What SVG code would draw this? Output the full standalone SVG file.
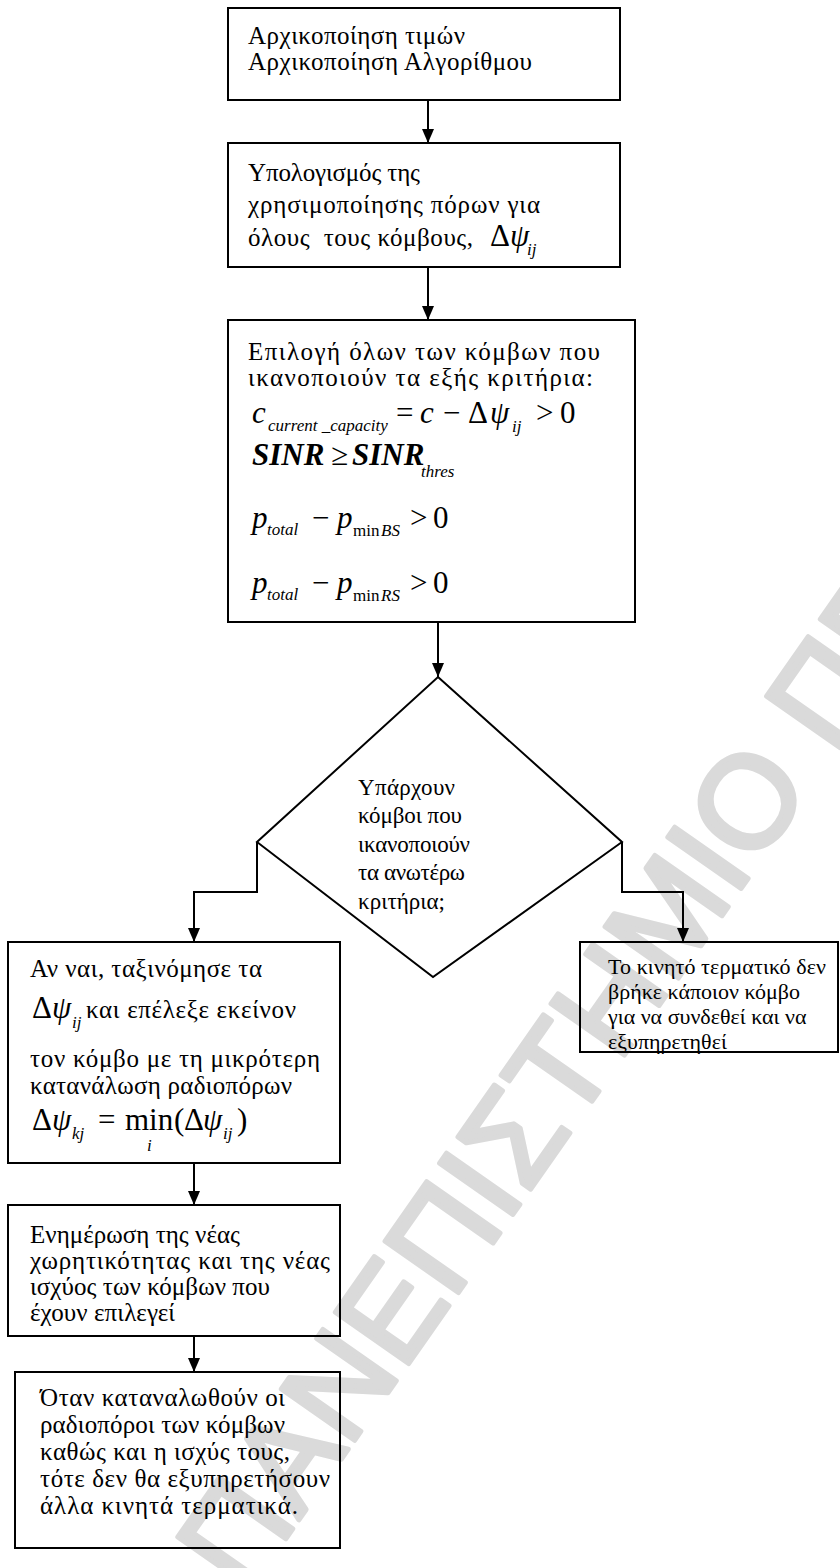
<svg xmlns="http://www.w3.org/2000/svg" width="840" height="1568" viewBox="0 0 840 1568">
<style>
.box{fill:none;stroke:#000;stroke-width:2}
.t{font-family:"Liberation Serif","DejaVu Serif",serif;font-size:25px;fill:#000}
.td{font-family:"Liberation Serif","DejaVu Serif",serif;font-size:23px;fill:#000}
.t5{font-family:"Liberation Serif","DejaVu Serif",serif;font-size:22px;fill:#000}
.m{font-family:"Liberation Serif","DejaVu Serif",serif;font-size:31px;fill:#000}
.mi{font-family:"Liberation Serif","DejaVu Serif",serif;font-size:31px;font-style:italic;fill:#000}
.s{font-family:"Liberation Serif","DejaVu Serif",serif;font-size:17px;font-style:italic;fill:#000}
.su{font-family:"Liberation Serif","DejaVu Serif",serif;font-size:17px;fill:#000}
.c{fill:none;stroke:#000;stroke-width:2}
.wm{font-family:"Liberation Sans","DejaVu Sans",sans-serif;font-size:130px;fill:#dadada;stroke:#dadada;stroke-width:5;stroke-linejoin:round}
</style>
<defs>
<marker id="ah" viewBox="0 0 14 12" refX="14" refY="6" markerWidth="14" markerHeight="12" markerUnits="userSpaceOnUse" orient="auto">
<path d="M0,0 L14,6 L0,12 z" fill="#000"/>
</marker>
</defs>
<rect width="840" height="1568" fill="#fff"/>
<g id="watermark">
<text class="wm" transform="translate(245,1597) rotate(-55)">ΠΑΝΕΠΙΣΤΗΜΙΟ ΠΕΙΡΑΙΩΣ</text>
</g>
<g id="connectors">
<line class="c" x1="428" y1="100" x2="428" y2="143" marker-end="url(#ah)"/>
<line class="c" x1="428" y1="267" x2="428" y2="320" marker-end="url(#ah)"/>
<line class="c" x1="438" y1="622" x2="438" y2="677" marker-end="url(#ah)"/>
<polyline class="c" points="257,842 257,892 194,892 194,942" marker-end="url(#ah)"/>
<polyline class="c" points="622,842 622,892 683,892 683,942" marker-end="url(#ah)"/>
<line class="c" x1="194" y1="1163" x2="194" y2="1205" marker-end="url(#ah)"/>
<line class="c" x1="194" y1="1336" x2="194" y2="1372" marker-end="url(#ah)"/>
</g>
<g id="n1">
<rect class="box" x="228" y="8" width="392" height="92"/>
<text class="t" x="248" y="44" textLength="217">Αρχικοποίηση τιμών</text>
<text class="t" x="248" y="70" textLength="284">Αρχικοποίηση Αλγορίθμου</text>
</g>
<g id="n2">
<rect class="box" x="228" y="143" width="392" height="124"/>
<text class="t" x="248" y="181" textLength="172">Υπολογισμός της</text>
<text class="t" x="248" y="213" textLength="292">χρησιμοποίησης πόρων για</text>
<text class="t" x="248" y="246" xml:space="preserve" textLength="225">όλους  τους κόμβους,</text>
<text class="m" x="490" y="246">Δ</text>
<text class="mi" x="510" y="246">ψ</text>
<text class="s" x="527" y="255">ij</text>
</g>
<g id="n3">
<rect class="box" x="228" y="320" width="407" height="302"/>
<text class="t" x="248" y="360" font-size="26" textLength="352">Επιλογή όλων των κόμβων που</text>
<text class="t" x="248" y="386" font-size="26" textLength="345">ικανοποιούν τα εξής κριτήρια:</text>
<text class="mi" x="252" y="423" font-size="34">c</text>
<text class="s" x="268" y="431" xml:space="preserve">current _capacity</text>
<text class="m" x="396" y="423">=</text>
<text class="mi" x="420" y="423">c</text>
<text class="m" x="443" y="423">−</text>
<text class="m" x="468" y="423">Δ</text>
<text class="mi" x="490" y="423">ψ</text>
<text class="s" x="512" y="432">ij</text>
<text class="m" x="536" y="423">&gt;</text>
<text class="m" x="560" y="423">0</text>
<text class="mi" x="252" y="465" font-weight="bold">SINR</text>
<text class="m" x="331" y="465">≥</text>
<text class="mi" x="352" y="465" font-weight="bold">SINR</text>
<text class="s" x="421" y="477">thres</text>
<text class="mi" x="252" y="528">p</text>
<text class="s" x="267" y="535">total</text>
<text class="m" x="312" y="528">−</text>
<text class="mi" x="337" y="528">p</text>
<text class="su" x="353" y="536">min</text>
<text class="s" x="381" y="536">BS</text>
<text class="m" x="410" y="528">&gt;</text>
<text class="m" x="433" y="528">0</text>
<text class="mi" x="252" y="593">p</text>
<text class="s" x="267" y="600">total</text>
<text class="m" x="312" y="593">−</text>
<text class="mi" x="337" y="593">p</text>
<text class="su" x="353" y="601">min</text>
<text class="s" x="381" y="601">RS</text>
<text class="m" x="410" y="593">&gt;</text>
<text class="m" x="433" y="593">0</text>
</g>
<g id="n4">
<polygon class="box" points="438,677 622,842 433,977 257,842"/>
<text class="td" x="358" y="795" textLength="97">Υπάρχουν</text>
<text class="td" x="358" y="823" textLength="104">κόμβοι που</text>
<text class="td" x="358" y="852" textLength="112">ικανοποιούν</text>
<text class="td" x="358" y="880" textLength="107">τα ανωτέρω</text>
<text class="td" x="358" y="909" textLength="87">κριτήρια;</text>
</g>
<g id="n5">
<rect class="box" x="8" y="942" width="332" height="221"/>
<text class="t" x="30" y="977" textLength="232">Αν ναι, ταξινόμησε τα</text>
<text class="m" x="32" y="1018">Δ</text>
<text class="mi" x="52" y="1018">ψ</text>
<text class="s" x="72" y="1028">ij</text>
<text class="t" x="86" y="1018" textLength="210">και επέλεξε εκείνον</text>
<text class="t" x="30" y="1067" textLength="290">τον κόμβο με τη μικρότερη</text>
<text class="t" x="30" y="1094" textLength="262">κατανάλωση ραδιοπόρων</text>
<text class="m" x="32" y="1130">Δ</text>
<text class="mi" x="52" y="1130">ψ</text>
<text class="s" x="72" y="1139">kj</text>
<text class="m" x="98" y="1130">=</text>
<text class="m" x="125" y="1130">min</text>
<text class="s" x="147" y="1151">i</text>
<text class="m" x="174" y="1130">(</text>
<text class="m" x="184" y="1130">Δ</text>
<text class="mi" x="203" y="1130">ψ</text>
<text class="s" x="223" y="1139">ij</text>
<text class="m" x="237" y="1130">)</text>
</g>
<g id="n6">
<rect class="box" x="580" y="942" width="258" height="110"/>
<text class="t5" x="608" y="974" textLength="218">Το κινητό τερματικό δεν</text>
<text class="t5" x="608" y="999">βρήκε κάποιον κόμβο</text>
<text class="t5" x="608" y="1024">για να συνδεθεί και να</text>
<text class="t5" x="608" y="1049">εξυπηρετηθεί</text>
</g>
<g id="n7">
<rect class="box" x="8" y="1205" width="332" height="131"/>
<text class="t" x="30" y="1243" textLength="210">Ενημέρωση της νέας</text>
<text class="t" x="30" y="1269" textLength="300">χωρητικότητας και της νέας</text>
<text class="t" x="30" y="1295" textLength="240">ισχύος των κόμβων που</text>
<text class="t" x="30" y="1321" textLength="145">έχουν επιλεγεί</text>
</g>
<g id="n8">
<rect class="box" x="15" y="1372" width="325" height="176"/>
<text class="t" x="40" y="1406" textLength="245">Όταν καταναλωθούν οι</text>
<text class="t" x="40" y="1433" textLength="245">ραδιοπόροι των κόμβων</text>
<text class="t" x="40" y="1460" textLength="250">καθώς και η ισχύς τους,</text>
<text class="t" x="40" y="1487" textLength="290">τότε δεν θα εξυπηρετήσουν</text>
<text class="t" x="40" y="1514" textLength="258">άλλα κινητά τερματικά.</text>
</g>
</svg>
